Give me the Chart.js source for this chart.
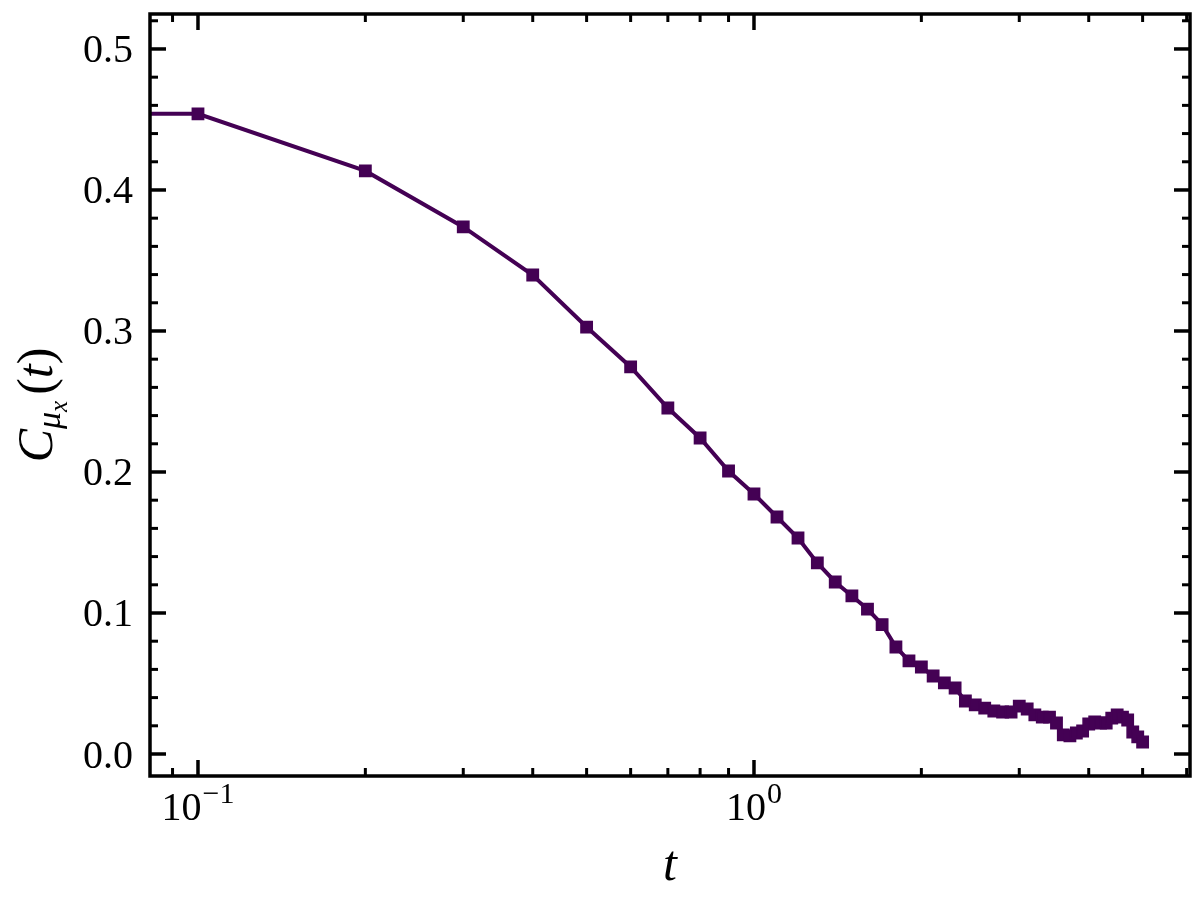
<!DOCTYPE html>
<html>
<head>
<meta charset="utf-8">
<script src="https://cdn.jsdelivr.net/npm/chart.js@4/dist/chart.umd.min.js"></script>
<style>
html,body{margin:0;padding:0;background:#fff;}
#wrap{width:1204px;height:904px;}
</style>
</head>
<body>
<div id="wrap"><canvas id="c" width="1204" height="904"></canvas></div>
<script>
// t values (t=0 sits on the left edge of the log axis, like matplotlib clips it)
const times = [0, 0.1, 0.2, 0.3, 0.4, 0.5, 0.6, 0.7, 0.8, 0.9,
  1.0, 1.1, 1.2, 1.3, 1.4, 1.5, 1.6, 1.7, 1.8, 1.9,
  2.0, 2.1, 2.2, 2.3, 2.4, 2.5, 2.6, 2.7, 2.8, 2.9,
  3.0, 3.1, 3.2, 3.3, 3.4, 3.5, 3.6, 3.7, 3.8, 3.9,
  4.0, 4.1, 4.2, 4.3, 4.4, 4.5, 4.6, 4.7, 4.8, 4.9, 5.0];
const corr = [0.454, 0.454, 0.4135, 0.3738, 0.3397, 0.3028, 0.2745, 0.2454, 0.2241, 0.2007,
  0.1844, 0.1681, 0.1532, 0.1355, 0.1220, 0.1121, 0.1028, 0.0918, 0.0759, 0.0660,
  0.0617, 0.0553, 0.0504, 0.0468, 0.0376, 0.0348, 0.0326, 0.0305, 0.0298, 0.0298,
  0.0340, 0.0319, 0.0277, 0.0262, 0.0262, 0.0220, 0.0135, 0.0128, 0.0149, 0.0163,
  0.0213, 0.0227, 0.0220, 0.0220, 0.0255, 0.0277, 0.0262, 0.0241, 0.0156, 0.0121, 0.0085];

const xMajor = [0.1, 1];
const xMajorExp = ["\u22121", "0"];   // 10^exp labels
const xMinor = [0.09, 0.2, 0.3, 0.4, 0.5, 0.6, 0.7, 0.8, 0.9, 2, 3, 4, 5, 6];
const yMajor = [0.0, 0.1, 0.2, 0.3, 0.4, 0.5];
const yMinor = [0.02, 0.04, 0.06, 0.08, 0.12, 0.14, 0.16, 0.18, 0.22, 0.24, 0.26, 0.28,
  0.32, 0.34, 0.36, 0.38, 0.42, 0.44, 0.46, 0.48, 0.52];

const SERIF = '"Liberation Serif", "DejaVu Serif", serif';
const LINE = "#440154";

// inward ticks on all four sides + frame + x tick labels + axis titles
const frameTicks = {
  id: "frameTicks",
  afterDraw(chart) {
    const {ctx, chartArea: a, scales: {x, y}} = chart;
    ctx.save();
    ctx.strokeStyle = "#000";
    ctx.lineCap = "butt";
    const seg = (x1, y1, x2, y2) => { ctx.beginPath(); ctx.moveTo(x1, y1); ctx.lineTo(x2, y2); ctx.stroke(); };
    const xt = (vals, len, w) => {
      ctx.lineWidth = w;
      vals.forEach(v => {
        const p = x.getPixelForValue(v);
        seg(p, a.bottom, p, a.bottom - len);
        seg(p, a.top, p, a.top + len);
      });
    };
    const yt = (vals, len, w) => {
      ctx.lineWidth = w;
      vals.forEach(v => {
        const p = y.getPixelForValue(v);
        seg(a.left, p, a.left + len, p);
        seg(a.right, p, a.right - len, p);
      });
    };
    xt(xMajor, 16, 3.5);
    xt(xMinor, 8, 3);
    yt(yMajor, 16, 3.5);
    yt(yMinor, 8, 3);
    ctx.lineWidth = 3.5;
    ctx.strokeRect(a.left, a.top, a.right - a.left, a.bottom - a.top);

    // x tick labels 10^n with a real superscript
    ctx.fillStyle = "#000";
    ctx.textBaseline = "alphabetic";
    ctx.textAlign = "left";
    xMajor.forEach((v, i) => {
      const p = x.getPixelForValue(v);
      ctx.font = "40px " + SERIF;
      const wb = ctx.measureText("10").width;
      ctx.font = "30px " + SERIF;
      const we = ctx.measureText(xMajorExp[i]).width;
      const x0 = p - (wb + 1 + we) / 2;
      ctx.font = "40px " + SERIF;
      ctx.fillText("10", x0, 820);
      ctx.font = "30px " + SERIF;
      ctx.fillText(xMajorExp[i], x0 + wb + 1, 803);
    });

    // x title
    ctx.font = "italic 50px " + SERIF;
    ctx.textAlign = "center";
    ctx.fillText("t", (a.left + a.right) / 2, 880);

    // y title  C_{mu_x}(t)
    const parts = [
      {t: "C", f: "italic 50px " + SERIF, dy: 0},
      {t: "\u03BC", f: "italic 34px " + SERIF, dy: 8},
      {t: "x", f: "italic 25px " + SERIF, dy: 15},
      {t: "(", f: "50px " + SERIF, dy: 0, pre: 6},
      {t: "t", f: "italic 50px " + SERIF, dy: 0},
      {t: ")", f: "50px " + SERIF, dy: 0}
    ];
    let total = 0;
    parts.forEach(p => { ctx.font = p.f; p.w = ctx.measureText(p.t).width; total += p.w + (p.pre || 0); });
    ctx.translate(52, 405);
    ctx.rotate(-Math.PI / 2);
    ctx.textAlign = "left";
    let cx = -total / 2;
    parts.forEach(p => {
      cx += p.pre || 0;
      ctx.font = p.f;
      ctx.fillText(p.t, cx, p.dy);
      cx += p.w;
    });
    ctx.restore();
  }
};

new Chart(document.getElementById("c"), {
  type: "line",
  data: {
    datasets: [{
      data: times.map((t, i) => ({x: t, y: corr[i]})),
      borderColor: LINE,
      backgroundColor: LINE,
      borderWidth: 4,
      pointStyle: "rect",
      pointRadius: ctx => (ctx.raw && ctx.raw.x === 0 ? 0 : 8),
      pointBorderWidth: 1.5,
      pointBorderColor: LINE,
      pointBackgroundColor: LINE,
      tension: 0
    }]
  },
  options: {
    responsive: false,
    animation: false,
    devicePixelRatio: 1,
    layout: {padding: {top: 14, right: 14, left: 0, bottom: 0}},
    plugins: {legend: {display: false}, tooltip: {enabled: false}},
    scales: {
      x: {
        type: "logarithmic",
        min: 0.08198,
        max: 6.084,
        grid: {display: false, drawTicks: false},
        border: {display: false},
        afterBuildTicks: s => { s.ticks = xMajor.map(v => ({value: v})); },
        afterFit: s => { s.height = 128; s.paddingLeft = 0; s.paddingRight = 0; },
        ticks: {display: false}
      },
      y: {
        type: "linear",
        min: -0.0156,
        max: 0.5248,
        grid: {display: false, drawTicks: false},
        border: {display: false},
        afterBuildTicks: s => { s.ticks = yMajor.map(v => ({value: v})); },
        afterFit: s => { s.width = 150; s.paddingTop = 0; s.paddingBottom = 0; },
        ticks: {
          padding: 17,
          labelOffset: 3,
          color: "#000",
          font: {family: SERIF, size: 40},
          callback: v => v.toFixed(1)
        }
      }
    }
  },
  plugins: [frameTicks]
});
</script>
</body>
</html>
